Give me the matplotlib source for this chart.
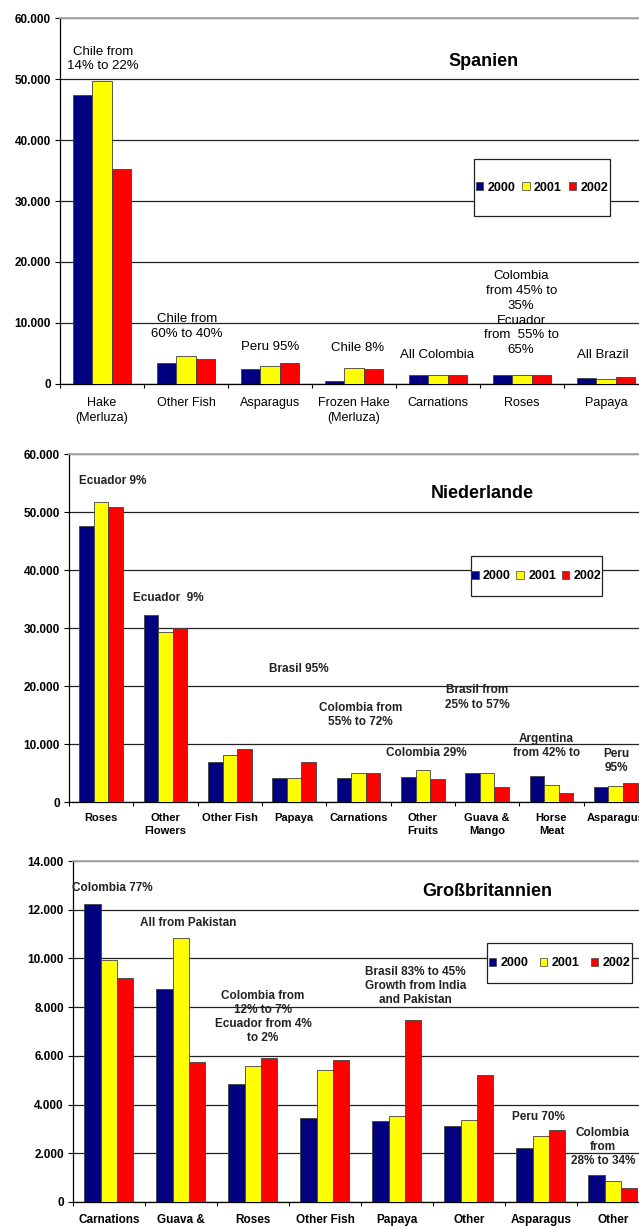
import matplotlib
matplotlib.use("Agg")
import matplotlib.pyplot as plt
import numpy as np
from matplotlib.patches import Patch, Rectangle
from matplotlib.ticker import FuncFormatter, MultipleLocator

plt.rcParams['font.family'] = ['Liberation Sans', 'DejaVu Sans']

years = ["2000", "2001", "2002"]
bar_colors = ["#000080", "#FFFF00", "#FF0000"]

# Spanien
es_cats = ["Hake\n(Merluza)", "Other Fish", "Asparagus", "Frozen Hake\n(Merluza)",
           "Carnations", "Roses", "Papaya"]
es_2000 = [47300, 3400, 2500, 550, 1500, 1500, 1000]
es_2001 = [49700, 4600, 3000, 2700, 1500, 1400, 800]
es_2002 = [35200, 4050, 3500, 2450, 1500, 1500, 1100]

# Niederlande
nl_cats = ["Roses", "Other\nFlowers", "Other Fish", "Papaya", "Carnations",
           "Other\nFruits", "Guava &\nMango", "Horse\nMeat", "Asparagus"]
nl_2000 = [47600, 32250, 6950, 4080, 4100, 4300, 5000, 4450, 2600]
nl_2001 = [51800, 29350, 8150, 4200, 5000, 5500, 5000, 2900, 2800]
nl_2002 = [50900, 30050, 9200, 6950, 5000, 3900, 2600, 1500, 3200]

# Grossbritannien
uk_cats = ["Carnations", "Guava &", "Roses", "Other Fish", "Papaya",
           "Other", "Asparagus", "Other"]
uk_2000 = [12250, 8750, 4850, 3450, 3330, 3140, 2200, 1100]
uk_2001 = [9920, 10850, 5600, 5400, 3510, 3370, 2700, 860]
uk_2002 = [9200, 5750, 5900, 5830, 7480, 5200, 2950, 590]


def dotted(v, pos):
    return f"{v:,.0f}".replace(",", ".")


def draw_panel(ax, cats, series, ymax, ystep, xfont, xweight, ypad_lab):
    n = len(cats)
    x = np.arange(n)
    w = 0.227
    for i, vals in enumerate(series):
        ax.bar(x + (i - 1) * w, vals, w, color=bar_colors[i],
               edgecolor="#404040", linewidth=0.6, zorder=3)
    ax.set_xlim(-0.5, n - 0.5)
    ax.set_ylim(0, ymax)
    ax.yaxis.set_major_locator(MultipleLocator(ystep))
    ax.yaxis.set_major_formatter(FuncFormatter(dotted))
    ax.set_xticks(x)
    ax.set_xticklabels(cats, fontsize=xfont, fontweight=xweight, linespacing=1.35)
    ax.set_xticks(np.arange(n + 1) - 0.5, minor=True)
    ax.tick_params(axis="x", which="major", length=0, pad=ypad_lab)
    ax.tick_params(axis="x", which="minor", length=3, width=0.8, direction="out")
    ax.tick_params(axis="y", length=3.5, width=0.8, pad=3)
    for lab in ax.get_yticklabels():
        lab.set_fontweight("bold")
        lab.set_fontsize(8.5)
    ax.set_axisbelow(True)
    ax.grid(axis="y", color="#222222", linewidth=0.9)
    ax.get_ygridlines()[-1].set_visible(False)
    ax.spines["right"].set_visible(False)
    ax.spines["top"].set_color("#a8a8a8")
    ax.spines["top"].set_linewidth(1.3)
    ax.spines["left"].set_linewidth(0.9)
    ax.spines["bottom"].set_linewidth(0.9)


def add_legend(ax, box, size, colspace):
    ax.add_patch(Rectangle((box[0], box[1]), box[2], box[3], transform=ax.transAxes,
                           facecolor="white", edgecolor="#222222", linewidth=0.9, zorder=4))
    handles = [Patch(facecolor=c, edgecolor="#404040", linewidth=0.5) for c in bar_colors]
    leg = ax.legend(handles, years, loc="center", ncol=3, frameon=False,
                    bbox_to_anchor=(box[0] + box[2] / 2, box[1] + box[3] / 2),
                    prop={"weight": "bold", "size": size}, handlelength=0.6,
                    handleheight=0.6, handletextpad=0.35, columnspacing=colspace,
                    borderpad=0.2)
    leg.set_zorder(5)


fig = plt.figure(figsize=(6.39, 12.26), dpi=100)

# --- Spanien ---
ax1 = fig.add_axes([0.0939, 0.6868, 0.9202, 0.2985])
draw_panel(ax1, es_cats, [es_2000, es_2001, es_2002], 60000, 10000, 9, "normal", 9.5)
ax1.text(4.54, 52950, "Spanien", ha="center", va="center", fontsize=13, fontweight="bold")
es_notes = [
    ("Chile from\n14% to 22%", 0.01, 53300),
    ("Chile from\n60% to 40%", 1.01, 9400),
    ("Peru 95%", 2.0, 6070),
    ("Chile 8%", 3.04, 5900),
    ("All Colombia", 3.99, 4750),
    ("Colombia\nfrom 45% to\n35%\nEcuador\nfrom  55% to\n65%", 4.99, 11600),
    ("All Brazil", 5.96, 4750),
]
for t, xx, yy in es_notes:
    ax1.text(xx, yy, t, ha="center", va="center", fontsize=9.5, linespacing=1.3)
add_legend(ax1, (0.704, 0.459, 0.2313, 0.1557), 9, 0.55)

# --- Niederlande ---
ax2 = fig.add_axes([0.108, 0.3458, 0.906, 0.2838])
draw_panel(ax2, nl_cats, [nl_2000, nl_2001, nl_2002], 60000, 10000, 8, "bold", 8)
ax2.text(5.93, 53270, "Niederlande", ha="center", va="center", fontsize=13, fontweight="bold")
nl_notes = [
    ("Ecuador 9%", 0.18, 55340),
    ("Ecuador  9%", 1.05, 35170),
    ("Brasil 95%", 3.07, 22930),
    ("Colombia from\n55% to 72%", 4.03, 15000),
    ("Brasil from\n25% to 57%", 5.85, 18020),
    ("Colombia 29%", 5.06, 8450),
    ("Argentina\nfrom 42% to", 6.92, 9650),
    ("Peru\n95%", 8.01, 7070),
]
for t, xx, yy in nl_notes:
    ax2.text(xx, yy, t, ha="center", va="center", fontsize=8.5, fontweight="bold",
             color="#222222", linespacing=1.3)
add_legend(ax2, (0.694, 0.592, 0.226, 0.115), 9, 0.45)

# --- Grossbritannien ---
ax3 = fig.add_axes([0.1142, 0.0196, 0.9014, 0.2781])
draw_panel(ax3, uk_cats, [uk_2000, uk_2001, uk_2002], 14000, 2000, 8.5, "bold", 9)
ax3.text(5.25, 12730, "Großbritannien", ha="center", va="center", fontsize=13, fontweight="bold")
uk_notes = [
    ("All from Pakistan", 1.10, 11460),
    ("Colombia from\n12% to 7%\nEcuador from 4%\nto 2%", 2.14, 7600),
    ("Brasil 83% to 45%\nGrowth from India\nand Pakistan", 4.26, 8870),
    ("Peru 70%", 5.96, 3490),
    ("Colombia\nfrom\n28% to 34%", 6.86, 2260),
]
ax3.text(-0.52, 12890, "Colombia 77%", ha="left", va="center", fontsize=8.5,
         fontweight="bold", color="#222222")
for t, xx, yy in uk_notes:
    ax3.text(xx, yy, t, ha="center", va="center", fontsize=8.5, fontweight="bold",
             color="#222222", linespacing=1.2)
add_legend(ax3, (0.719, 0.642, 0.252, 0.117), 9, 0.9)

fig.savefig("out.png", dpi=100)
